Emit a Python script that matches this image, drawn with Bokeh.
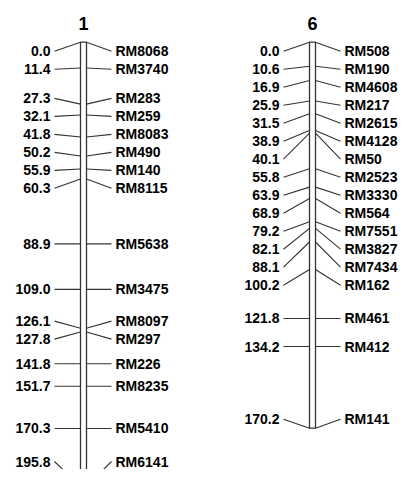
from bokeh.plotting import figure
from bokeh.models import Range1d
from bokeh.core.properties import value
from bokeh.embed import file_html
from bokeh.resources import INLINE

# ---- data ----
chrom_names = ["1", "6"]
chr1_markers = ["RM8068", "RM3740", "RM283", "RM259", "RM8083", "RM490", "RM140", "RM8115",
                "RM5638", "RM3475", "RM8097", "RM297", "RM226", "RM8235", "RM5410", "RM6141"]
chr1_pos = [0.0, 11.4, 27.3, 32.1, 41.8, 50.2, 55.9, 60.3, 88.9, 109.0, 126.1, 127.8,
            141.8, 151.7, 170.3, 195.8]
chr6_markers = ["RM508", "RM190", "RM4608", "RM217", "RM2615", "RM4128", "RM50", "RM2523",
                "RM3330", "RM564", "RM7551", "RM3827", "RM7434", "RM162", "RM461", "RM412", "RM141"]
chr6_pos = [0.0, 10.6, 16.9, 25.9, 31.5, 38.9, 40.1, 55.8, 63.9, 68.9, 79.2, 82.1, 88.1,
            100.2, 121.8, 134.2, 170.2]

# ---- layout ----
W, H = 398, 469
PX_PER_CM = 2.268
TOP_PX = 41.7           # pixel position of 0 cM
y_top = -TOP_PX / PX_PER_CM
y_bot = (H - TOP_PX) / PX_PER_CM
GAP = 18.0 / PX_PER_CM  # min label spacing in cM
OFF = 9.0 / PX_PER_CM   # end-label inset
VIS_BOTTOM = y_bot - 8.0 / PX_PER_CM
centers = [83, 312]

FONT = value("Liberation Sans")
LINE_COLOR = "#333333"
TEXT_COLOR = "#000000"
LABEL_SIZE = "14px"


def spread(pos):
    desired = list(pos)
    if len(desired) > 1:
        desired[0] += OFF
        desired[-1] -= OFF
    lo = pos[0] + OFF
    hi = min(pos[-1] - OFF, VIS_BOTTOM)
    desired[-1] = min(desired[-1], hi)

    def top_of(c):
        n = c[1]
        t = c[2] / n - GAP * (n - 1) / 2
        t = min(t, hi - GAP * (n - 1))
        t = max(t, lo)
        return t

    clusters = []
    for i, d in enumerate(desired):
        clusters.append([i, 1, d])
        while len(clusters) > 1:
            a, b = clusters[-2], clusters[-1]
            if top_of(a) + GAP * a[1] > top_of(b) + 1e-9:
                clusters[-2] = [a[0], a[1] + b[1], a[2] + b[2]]
                clusters.pop()
            else:
                break
    out = []
    for c in clusters:
        t = top_of(c)
        out.extend(t + GAP * k for k in range(c[1]))
    return out


p = figure(width=W, height=H, output_backend="svg", toolbar_location=None,
           x_range=Range1d(0, W), y_range=Range1d(y_bot, y_top),
           x_axis_location=None, y_axis_location=None, min_border=0)
p.outline_line_color = None
p.grid.visible = False
p.background_fill_color = "white"

for name, cx, markers, pos in zip(chrom_names, centers,
                                  [chr1_markers, chr6_markers], [chr1_pos, chr6_pos]):
    lab = spread(pos)
    n = len(pos)
    # connectors
    p.segment(x0=[cx - 29] * n, y0=lab, x1=[cx - 3] * n, y1=pos,
              line_color=LINE_COLOR, line_width=1.1)
    p.segment(x0=[cx + 3] * n, y0=pos, x1=[cx + 28] * n, y1=lab,
              line_color=LINE_COLOR, line_width=1.1)
    # chromosome bar
    p.quad(left=[cx - 3], right=[cx + 3], top=[pos[0]], bottom=[pos[-1]],
           fill_color="white", line_color=LINE_COLOR, line_width=1.3)
    # labels
    p.text(x=[cx - 33] * n, y=lab, text=[f"{v:.1f}" for v in pos],
           text_align="right", text_baseline="middle", text_font=FONT,
           text_font_style="bold", text_font_size=LABEL_SIZE, text_color=TEXT_COLOR)
    p.text(x=[cx + 32] * n, y=lab, text=markers,
           text_align="left", text_baseline="middle", text_font=FONT,
           text_font_style="bold", text_font_size=LABEL_SIZE, text_color=TEXT_COLOR)
    # title
    p.text(x=[cx], y=[pos[0]], text=[name], y_offset=-19,
           text_align="center", text_baseline="middle", text_font=FONT,
           text_font_style="bold", text_font_size="18px", text_color=TEXT_COLOR)

open("out.html", "w").write(file_html(p, INLINE))
